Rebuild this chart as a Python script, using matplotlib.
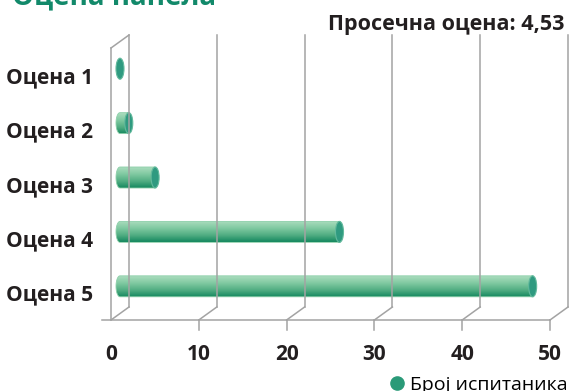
import numpy as np
import matplotlib.pyplot as plt
from matplotlib.patches import Polygon, Ellipse
from matplotlib.lines import Line2D
from matplotlib.colors import LinearSegmentedColormap

plt.rcParams['font.family'] = ['Open Sans', 'DejaVu Sans']

# podaci
kategorije = ['Оцена 1', 'Оцена 2', 'Оцена 3', 'Оцена 4', 'Оцена 5']
broj_ispitanika = [0, 1, 4, 25, 47]
x_podeoci = [0, 10, 20, 30, 40, 50]
naslov = 'Оцена панела'
prosek_tekst = 'Просечна оцена: 4,53'
legenda_tekst = 'Број испитаника'

W, H = 569, 391
fig = plt.figure(figsize=(W / 100, H / 100), dpi=100)

# prednja ravan grafika u pikselima
levo_px, desno_px, vrh_px, pod_px = 111, 550, 48, 320
ax = fig.add_axes([levo_px / W, (H - pod_px) / H,
                   (desno_px - levo_px) / W, (pod_px - vrh_px) / H])
x_max = x_podeoci[-1]
n = len(kategorije)
ax.axis('off')

ux = (desno_px - levo_px) / x_max   # piksela po jedinici
uy = (pod_px - vrh_px) / n          # piksela po kategoriji
dub_x, dub_y = 18 / ux, -13 / uy    # "dubina" 3D okvira

siva = '#a3a3a3'
tamna = '#231f20'
y_pod = n - 0.5
y_vrh = -0.5

# zid i pod
for x in x_podeoci:
    ax.plot([x + dub_x] * 2, [y_pod + dub_y, y_vrh + dub_y], color=siva, lw=1.1, clip_on=False)
    ax.plot([x, x + dub_x], [y_pod, y_pod + dub_y], color=siva, lw=1.1, clip_on=False)
    if x > 0:
        ax.plot([x, x], [y_pod, y_pod + 10 / uy], color=siva, lw=1.1, clip_on=False)
    ax.text(x, y_pod + 40 / uy, str(x), ha='center', va='baseline',
            fontsize=15, fontweight='bold', color=tamna)
ax.plot([0, 0], [y_pod, y_vrh], color=siva, lw=1.1, clip_on=False)
ax.plot([0, dub_x], [y_vrh, y_vrh + dub_y], color=siva, lw=1.1, clip_on=False)
ax.plot([-1.0, x_max], [y_pod, y_pod], color=siva, lw=1.1, clip_on=False)

# cilindri
cmap = LinearSegmentedColormap.from_list('cil', ['#a9dcbd', '#80c9a1', '#52ae83', '#15885f'])
grad = np.linspace(0, 1, 64).reshape(-1, 1)
visina = 21 / uy
kapa = 8 / ux
pomak_x, pomak_y = 9 / ux, -6.5 / uy
t = np.linspace(np.pi / 2, 3 * np.pi / 2, 40)

for i, v in enumerate(broj_ispitanika):
    yc = i + pomak_y
    x0 = pomak_x
    x1 = v + pomak_x
    if v > 0:
        luk_x = x0 + kapa / 2 * np.cos(t)
        luk_y = yc - visina / 2 * np.sin(t)
        tacke = np.column_stack([np.r_[luk_x, x1, x1],
                                 np.r_[luk_y, yc + visina / 2, yc - visina / 2]])
        telo = Polygon(tacke, closed=True, facecolor='none', edgecolor='#8ccfa9', lw=0.6)
        ax.add_patch(telo)
        img = ax.imshow(grad, cmap=cmap, extent=(x0 - kapa / 2, x1, yc + visina / 2, yc - visina / 2),
                        origin='upper', aspect='auto', interpolation='bicubic')
        img.set_clip_path(telo)
    ax.add_patch(Ellipse((x1, yc), kapa, visina, facecolor='#2f9a80',
                         edgecolor='#62b99c', lw=0.8))

# nazivi kategorija
for i, k in enumerate(kategorije):
    ax.text(-18 / ux, i + 8 / uy, k, ha='right', va='baseline',
            fontsize=15, fontweight='bold', color=tamna)

ax.set_xlim(0, x_max)
ax.set_ylim(y_pod, y_vrh)

fig.text(12 / W, 1 - 4 / H, naslov, ha='left', va='baseline',
         fontsize=20, fontweight='bold', color='#12896a')
fig.text(565 / W, 1 - 30 / H, prosek_tekst, ha='right', va='baseline',
         fontsize=15.5, fontweight='bold', color=tamna)

marker = Line2D([], [], marker='o', ls='', markersize=9.5,
                markerfacecolor='#2a9a78', markeredgecolor='#2a9a78')
fig.legend(handles=[marker], labels=[legenda_tekst], loc='lower right',
           bbox_to_anchor=(568 / W, -3 / H), frameon=False, fontsize=14,
           handletextpad=0.2, borderpad=0, borderaxespad=0, handlelength=1.0)

fig.savefig('out.png', dpi=100)
